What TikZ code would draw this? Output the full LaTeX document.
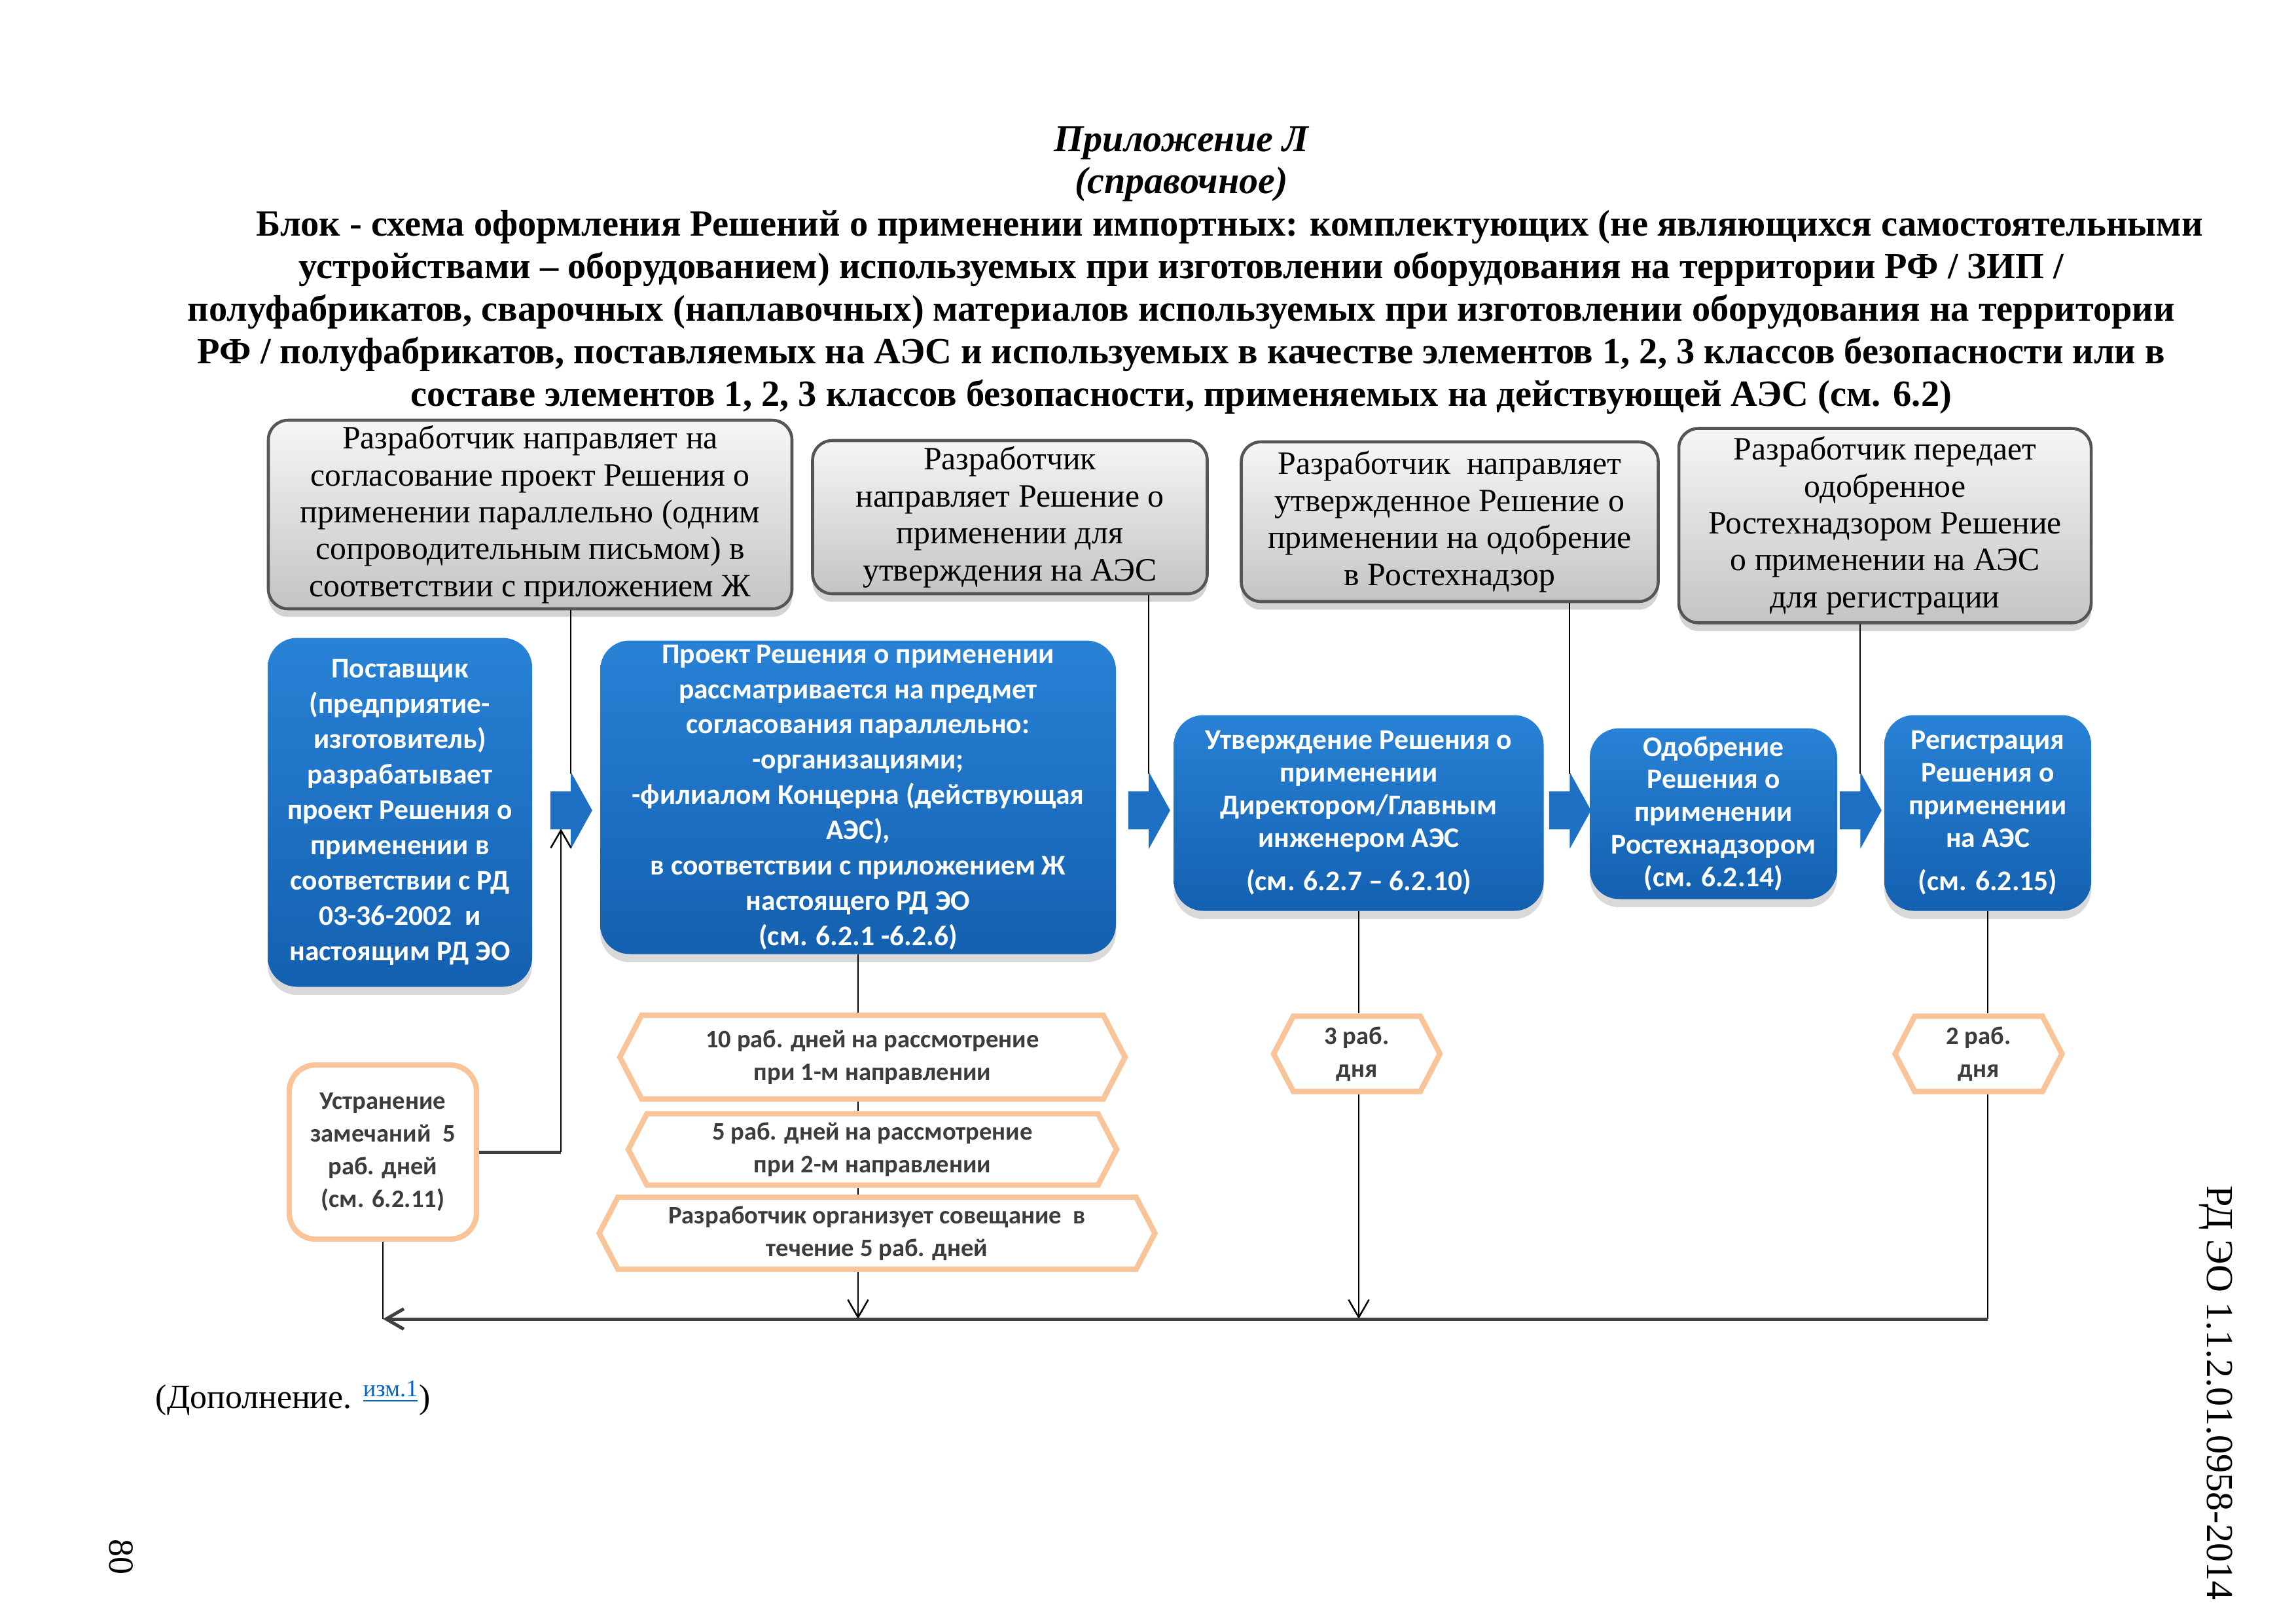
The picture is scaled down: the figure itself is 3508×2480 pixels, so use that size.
\documentclass[tikz,border=0pt]{standalone}
\usepackage{fontspec}
\setmainfont{Liberation Serif}
\newfontfamily\calibri{Carlito}
\usetikzlibrary{shapes.symbols,shapes.arrows,arrows.meta,shadows}
\newdimen\pxu \pxu=0.0084664cm
\definecolor{graytop}{RGB}{246,246,246}
\definecolor{graybot}{RGB}{196,196,196}
\definecolor{grayline}{RGB}{85,85,85}
\definecolor{bluetop}{RGB}{40,130,214}
\definecolor{bluebot}{RGB}{20,96,176}
\definecolor{bluemid}{RGB}{30,112,196}
\definecolor{hexorange}{RGB}{249,196,152}
\definecolor{hextext}{RGB}{60,60,60}
\definecolor{linkblue}{RGB}{5,99,193}
\tikzset{
  sz/.style 2 args={minimum width=#1\pxu, minimum height=#2\pxu},
  graybox/.style={rectangle, rounded corners=30\pxu, draw=grayline, line width=1.1pt, top color=graytop, bottom color=graybot, drop shadow={shadow xshift=0pt, shadow yshift=-3pt, opacity=0.35}, align=center, inner sep=0pt, font=\fontsize{12}{13.6}\selectfont},
  bluebox/.style={rectangle, rounded corners=45\pxu, top color=bluetop, bottom color=bluebot, text=white, drop shadow={shadow xshift=0pt, shadow yshift=-3pt, opacity=0.3}, align=center, inner sep=0pt, font=\calibri\bfseries\fontsize{10.5}{13}\selectfont},
  bluearrow/.style={single arrow, fill=bluemid, minimum height=64\pxu, inner xsep=0pt, inner ysep=28\pxu, single arrow head extend=30\pxu, single arrow tip angle=122, anchor=tail},
  hexbox/.style={signal, signal to=west and east, signal pointer angle=125, draw=hexorange, line width=2pt, fill=white, text=hextext, align=center, inner sep=0pt, font=\calibri\bfseries\fontsize{9.3}{12}\selectfont},
  remarkbox/.style={rectangle, rounded corners=40\pxu, draw=hexorange, line width=2pt, fill=white, text=hextext, align=center, inner sep=0pt, font=\calibri\bfseries\fontsize{9.3}{12}\selectfont},
  conn/.style={draw=black, line width=0.6pt},
  trunk/.style={draw=black!75, line width=1.2pt},
  arrowend/.style={-{Straight Barb[length=6.5pt,width=7.5pt]}}
}

\begin{document}
\begin{tikzpicture}[x=\pxu, y=-\pxu]
\useasboundingbox (0,0) rectangle (3508,2480);

% title
\node (head) at (1805,219) {\bfseries\itshape\fontsize{14}{15.7}\selectfont Приложение Л};
\node (sub) at (1805,282) {\bfseries\itshape\fontsize{14}{15.7}\selectfont (справочное)};
\node (cap) at (1805,477) [align=center, inner sep=0pt, font=\bfseries\fontsize{13.6}{15.7}\selectfont]
  {\hspace*{1.25cm}Блок - схема оформления Решений о применении импортных: комплектующих (не являющихся самостоятельными\\
   устройствами – оборудованием) используемых при изготовлении оборудования на территории РФ / ЗИП /\\
   полуфабрикатов, сварочных (наплавочных) материалов используемых при изготовлении оборудования на территории\\
   РФ / полуфабрикатов, поставляемых на АЭС и используемых в качестве элементов 1, 2, 3 классов безопасности или в\\
   составе элементов 1, 2, 3 классов безопасности, применяемых на действующей АЭС (см. 6.2)};

% developer steps
\node (g1) at (810,786) [graybox, sz={800}{288}] {Разработчик направляет на\\согласование проект Решения о\\применении параллельно (одним\\сопроводительным письмом) в\\соответствии с приложением Ж};
\node (g2) at (1543,790) [graybox, sz={603}{234}] {Разработчик\\направляет Решение о\\применении для\\утверждения на АЭС};
\node (g3) at (2215,797) [graybox, sz={637}{244}] {Разработчик\ \ направляет\\утвержденное Решение о\\применении на одобрение\\в Ростехнадзор};
\node (g4) at (2880,803) [graybox, sz={630}{297}] {Разработчик передает\\одобренное\\Ростехнадзором Решение\\о применении на АЭС\\для регистрации};

% main flow
\node (b1) at (611,1241) [bluebox, sz={404}{533}] {Поставщик\\(предприятие-\\изготовитель)\\разрабатывает\\проект Решения о\\применении в\\соответствии с РД\\03-36-2002\ \ и\\настоящим РД ЭО};
\node (b2) at (1311,1218) [bluebox, sz={788}{479}] {Проект Решения о применении\\рассматривается на предмет\\согласования параллельно:\\-организациями;\\-филиалом Концерна (действующая\\АЭС),\\в соответствии с приложением Ж\\настоящего РД ЭО\\(см. 6.2.1 -6.2.6)};
\node (b3) at (2076,1242) [bluebox, sz={565}{299}, font=\calibri\bfseries\fontsize{10.5}{12}\selectfont] {Утверждение Решения о\\применении\\Директором/Главным\\инженером АЭС\\[4pt](см. 6.2.7 – 6.2.10)};
\node (b4) at (2618,1243) [bluebox, sz={378}{261}, font=\calibri\bfseries\fontsize{10.5}{12}\selectfont] {Одобрение\\Решения о\\применении\\Ростехнадзором\\(см. 6.2.14)};
\node (b5) at (3037,1242) [bluebox, sz={316}{299}, font=\calibri\bfseries\fontsize{10.5}{12}\selectfont] {Регистрация\\Решения о\\применении\\на АЭС\\[4pt](см. 6.2.15)};

\node (a1) at (840,1238) [bluearrow] {};
\node (a2) at (1723,1238) [bluearrow] {};
\node (a3) at (2366,1238) [bluearrow] {};
\node (a4) at (2810,1238) [bluearrow] {};

% terms
\node (h1) at (1333,1615) [hexbox, sz={772}{128}] {10 раб. дней на рассмотрение\\при 1-м направлении};
\node (h2) at (1333,1756) [hexbox, sz={746}{109}] {5 раб. дней на рассмотрение\\при 2-м направлении};
\node (h3) at (1340,1884) [hexbox, sz={849}{110}] {Разработчик организует совещание\ \ в\\течение 5 раб. дней};
\node (h4) at (2073,1610) [hexbox, sz={254}{115}] {3 раб.\\дня};
\node (h5) at (3023,1610) [hexbox, sz={255}{115}] {2 раб.\\дня};
\node (u) at (585,1760) [remarkbox, sz={286}{266}] {Устранение\\замечаний\ \ 5\\раб. дней\\(см. 6.2.11)};

\coordinate (c0) at (857,1266);
\coordinate (c1) at (872,1182);
\coordinate (c2) at (1755,1182);
\coordinate (c3) at (2398,1182);
\coordinate (c4) at (2842,1182);
\coordinate (k1) at (585,2015);

\draw[conn] (c1 |- g1.south) -- (c1);
\draw[conn] (c2 |- g2.south) -- (c2);
\draw[conn] (c3 |- g3.south) -- (c3);
\draw[conn] (c4 |- g4.south) -- (c4);

\draw[trunk] (u.east) -- (u.east -| c0);
\draw[conn, arrowend] (u.east -| c0) -- (c0);
\draw[conn] (b2.south) -- (b2.south |- h1.north);
\draw[conn] (b2.south |- h1.south) -- (b2.south |- h2.north);
\draw[conn] (b2.south |- h2.south) -- (b2.south |- h3.north);
\draw[conn, arrowend] (b2.south |- h3.south) -- (b2.south |- k1);
\draw[conn] (b3.south) -- (b3.south |- h4.north);
\draw[conn, arrowend] (b3.south |- h4.south) -- (b3.south |- k1);
\draw[conn] (b5.south) -- (b5.south |- h5.north);
\draw[conn] (b5.south |- h5.south) -- (b5.south |- k1);
\draw[trunk, arrowend] (b5.south |- k1) -- (k1);
\draw[conn] (u.south) -- (k1);

% page texts
\node (note) at (237,2136) [anchor=west, inner sep=0pt, font=\fontsize{12.5}{14}\selectfont] {(Дополнение. \textsuperscript{\color{linkblue}\underline{изм.1}})};
\node (pnum) at (185,2378) [rotate=-90, font=\fontsize{13}{15}\selectfont] {80};
\node (code) at (3386,2128) [rotate=-90, font=\fontsize{14}{16}\selectfont] {РД ЭО 1.1.2.01.0958-2014};
\end{tikzpicture}
\end{document}
